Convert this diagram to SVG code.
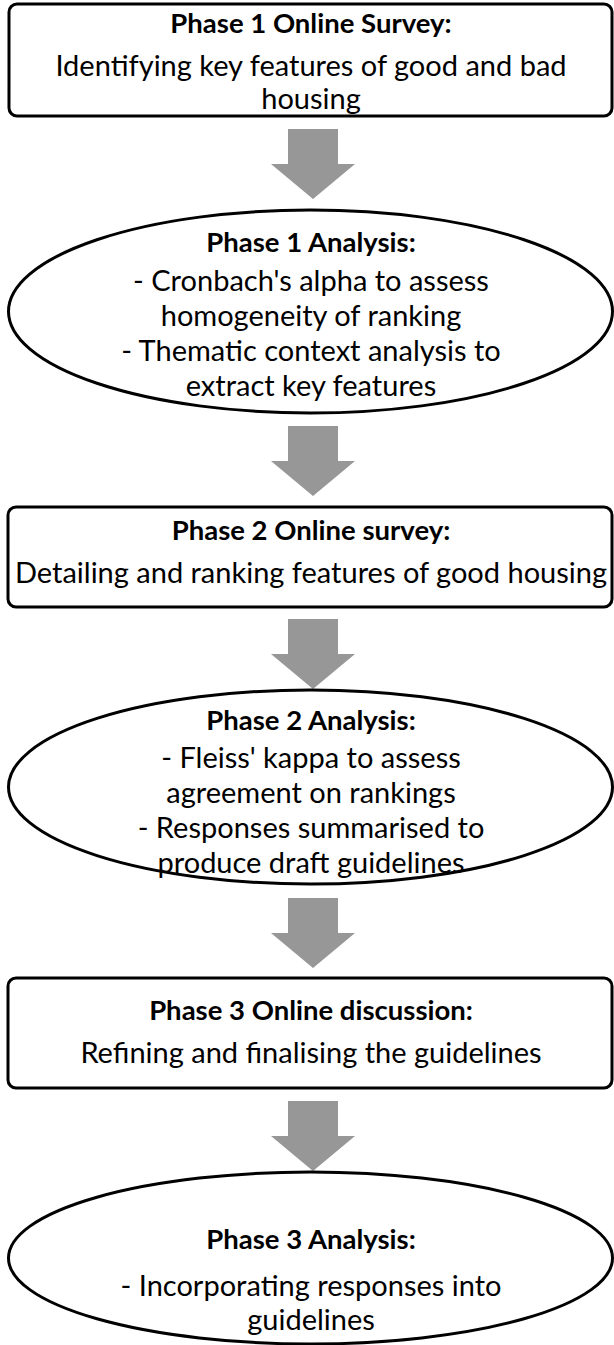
<svg xmlns="http://www.w3.org/2000/svg" width="614" height="1345" viewBox="0 0 614 1345">
<defs>
<style>
.box{fill:#fff;stroke:#000;stroke-width:3}
.t{font-family:Lato,"Open Sans",sans-serif;font-size:29px;fill:#000;text-anchor:middle}
.b{font-weight:bold;font-size:27.5px}
.arr{fill:#979797;stroke:none}
</style>
<path id="arrow" class="arr" d="M-25,0 H25 V35 H42 L0,70 L-42,35 H-25 Z"/>
</defs>
<g id="connectors">
<use href="#arrow" x="313" y="129"/>
<use href="#arrow" x="313" y="426"/>
<use href="#arrow" x="313" y="619"/>
<use href="#arrow" x="313" y="898"/>
<use href="#arrow" x="313" y="1101"/>
</g>
<g id="phase1-survey">
<rect class="box" x="9" y="4" width="603" height="112" rx="8"/>
<text class="t b" x="311" y="33">Phase 1 Online Survey:</text>
<text class="t" x="311" y="76">Identifying key features of good and bad</text>
<text class="t" x="311" y="109">housing</text>
</g>
<g id="phase1-analysis">
<ellipse class="box" cx="310.5" cy="311.5" rx="302" ry="101.5"/>
<text class="t b" x="311" y="252">Phase 1 Analysis:</text>
<text class="t" x="311" y="291">- Cronbach's alpha to assess</text>
<text class="t" x="311" y="326">homogeneity of ranking</text>
<text class="t" x="311" y="361">- Thematic context analysis to</text>
<text class="t" x="311" y="396">extract key features</text>
</g>
<g id="phase2-survey">
<rect class="box" x="8" y="507" width="604" height="100" rx="8"/>
<text class="t b" x="311" y="540">Phase 2 Online survey:</text>
<text class="t" x="311" y="583">Detailing and ranking features of good housing</text>
</g>
<g id="phase2-analysis">
<ellipse class="box" cx="310.5" cy="787" rx="302" ry="97"/>
<text class="t b" x="311" y="730">Phase 2 Analysis:</text>
<text class="t" x="311" y="768">- Fleiss' kappa to assess</text>
<text class="t" x="311" y="803">agreement on rankings</text>
<text class="t" x="311" y="838">- Responses summarised to</text>
<text class="t" x="311" y="873">produce draft guidelines</text>
</g>
<g id="phase3-discussion">
<rect class="box" x="8" y="978" width="604" height="110" rx="8"/>
<text class="t b" x="311" y="1020">Phase 3 Online discussion:</text>
<text class="t" x="311" y="1063">Refining and finalising the guidelines</text>
</g>
<g id="phase3-analysis">
<ellipse class="box" cx="310.5" cy="1258" rx="302" ry="86"/>
<text class="t b" x="311" y="1249">Phase 3 Analysis:</text>
<text class="t" x="311" y="1296">- Incorporating responses into</text>
<text class="t" x="311" y="1330">guidelines</text>
</g>
</svg>
